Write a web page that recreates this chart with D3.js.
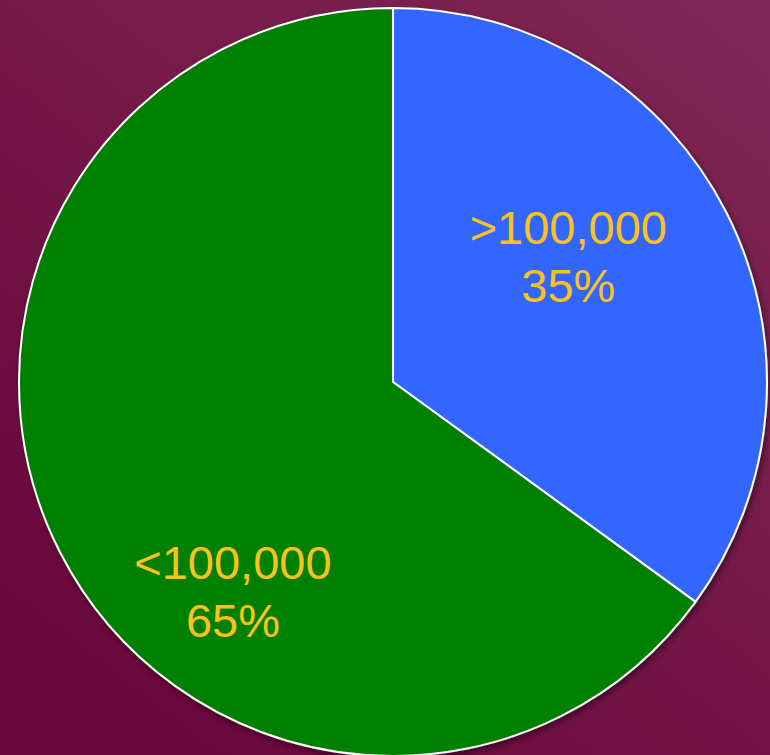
<!DOCTYPE html>
<html>
<head>
<meta charset="utf-8">
<script src="https://cdn.jsdelivr.net/npm/d3@7"></script>
<style>
  html, body { margin: 0; padding: 0; overflow: hidden; }
  svg { display: block; }
</style>
</head>
<body>
<svg id="chart"></svg>
<script>
'use strict';

// chart data
var categories = ['>100,000', '<100,000'];
var shares = [35, 65];
var sliceColors = ['#3366ff', '#008000'];

// label placement (angle in degrees from top clockwise, radius in px)
var labelAngles = [55, 217];
var labelRadii = [214, 266];

var width = 770;
var height = 755;
var cx = 393;
var cy = 382;
var radius = 374;

var svg = d3.select('#chart')
  .attr('width', width)
  .attr('height', height);

var defs = svg.append('defs');

var bg = defs.append('linearGradient')
  .attr('id', 'bg')
  .attr('x1', 1).attr('y1', 0)
  .attr('x2', 0.2).attr('y2', 1);
bg.append('stop').attr('offset', 0).attr('stop-color', '#7e2756');
bg.append('stop').attr('offset', 0.45).attr('stop-color', '#761a4a');
bg.append('stop').attr('offset', 1).attr('stop-color', '#69053a');

var shadow = defs.append('filter')
  .attr('id', 'shadow')
  .attr('x', '-10%').attr('y', '-10%')
  .attr('width', '120%').attr('height', '120%');
shadow.append('feDropShadow')
  .attr('dx', 2).attr('dy', 3)
  .attr('stdDeviation', 3)
  .attr('flood-color', '#000')
  .attr('flood-opacity', 0.45);

svg.append('rect')
  .attr('width', width)
  .attr('height', height)
  .attr('fill', 'url(#bg)');

var pie = d3.pie().sort(null).value(function (d) { return d; });
var arc = d3.arc().innerRadius(0).outerRadius(radius);

var g = svg.append('g')
  .attr('transform', 'translate(' + [cx, cy] + ')');

g.append('g')
  .attr('filter', 'url(#shadow)')
  .selectAll('path')
  .data(pie(shares))
  .enter()
  .append('path')
  .attr('d', arc)
  .attr('fill', function (d, i) { return sliceColors[i]; })
  .attr('stroke', '#ffffff')
  .attr('stroke-width', 2)
  .attr('stroke-linejoin', 'round');

var labels = g.selectAll('text.label')
  .data(pie(shares))
  .enter()
  .append('text')
  .attr('class', 'label')
  .attr('transform', function (d, i) {
    var p = d3.pointRadial(labelAngles[i] * Math.PI / 180, labelRadii[i]);
    return 'translate(' + p + ')';
  })
  .attr('text-anchor', 'middle')
  .attr('fill', '#fbc11d')
  .style('font-family', '"Liberation Sans", Arial, sans-serif')
  .style('font-size', '47px');

labels.append('tspan')
  .attr('x', 0)
  .attr('dy', '-0.32em')
  .text(function (d, i) { return categories[i]; });

labels.append('tspan')
  .attr('x', 0)
  .attr('dy', '1.22em')
  .text(function (d) { return d.data + '%'; });
</script>
</body>
</html>
